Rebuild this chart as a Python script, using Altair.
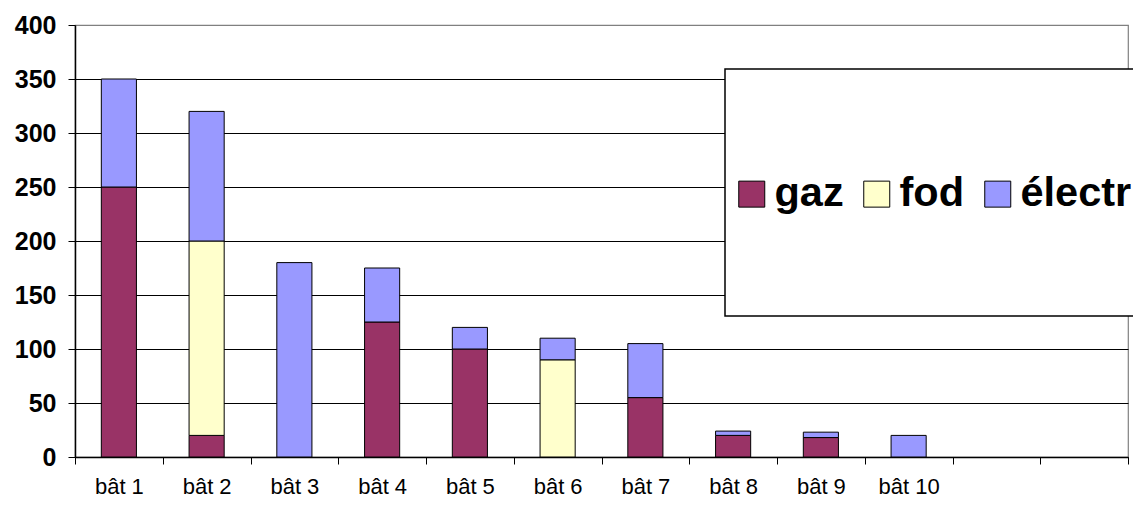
import altair as alt
import pandas as pd

categories = ["bât 1", "bât 2", "bât 3", "bât 4", "bât 5", "bât 6", "bât 7", "bât 8", "bât 9", "bât 10"]
empty_slots = ["", " "]
gaz = [250, 20, 0, 125, 100, 0, 55, 20, 18, 0]
fod = [0, 180, 0, 0, 0, 90, 0, 0, 0, 0]
electr = [100, 120, 180, 50, 20, 20, 50, 4, 5, 20]
series = ["gaz", "fod", "électr"]
colors = ["#993366", "#FFFFCC", "#9999FF"]
y_ticks = [0, 50, 100, 150, 200, 250, 300, 350, 400]

rows = []
for i, c in enumerate(categories):
    for k, (name, vals) in enumerate(zip(series, [gaz, fod, electr])):
        if vals[i] > 0:
            rows.append({"bat": c, "serie": name, "val": vals[i], "ord": k})
df = pd.DataFrame(rows)

FONT = "Liberation Sans"

bars = alt.Chart(df).mark_bar(stroke="black", strokeWidth=1, width=alt.RelativeBandSize(0.4)).encode(
    x=alt.X("bat:N", sort=None,
            scale=alt.Scale(domain=categories + empty_slots, paddingInner=0, paddingOuter=0),
            axis=alt.Axis(title=None, labelAngle=0, labelFont=FONT, labelFontSize=22,
                          labelColor="black", tickBand="extent", tickSize=7, tickColor="black",
                          tickWidth=1, domainColor="black", domainWidth=1.5, labelPadding=12,
                          grid=False)),
    y=alt.Y("val:Q", stack="zero",
            scale=alt.Scale(domain=[0, 400], nice=False),
            axis=alt.Axis(title=None, values=y_ticks, labelFont=FONT, labelFontSize=25,
                          labelFontWeight="bold", labelColor="black", tickSize=7,
                          tickColor="black", tickWidth=1, domainColor="black", domainWidth=1.5,
                          labelPadding=12,
                          gridColor=alt.condition("datum.value == 400", alt.value("#808080"), alt.value("black")),
                          gridWidth=1, gridOpacity=1)),
    color=alt.Color("serie:N", scale=alt.Scale(domain=series, range=colors),
                    legend=alt.Legend(title=None, orient="none", legendX=656, legendY=148,
                                      direction="horizontal", symbolType="square",
                                      symbolSize=676, symbolStrokeColor="black",
                                      symbolStrokeWidth=1, labelFont=FONT, labelFontSize=41.5,
                                      labelFontWeight="bold", labelColor="black",
                                      labelOffset=2, columnPadding=12, symbolOpacity=1)),
    order=alt.Order("ord:Q", sort="ascending"),
)

box = alt.Chart(pd.DataFrame({"k": [0]})).mark_rect(
    fill="white", stroke="black", strokeWidth=1.5
).encode(x=alt.value(650), x2=alt.value(1100), y=alt.value(44), y2=alt.value(291))

chart = alt.layer(bars, box).properties(
    width=1053, height=432,
    padding={"left": 67, "top": 17, "right": 5, "bottom": 40},
    autosize=alt.AutoSizeParams(type="none"),
).configure_view(stroke="#808080", strokeWidth=1.2)

chart.save("out.html", embed_options={"renderer": "svg", "actions": False})
